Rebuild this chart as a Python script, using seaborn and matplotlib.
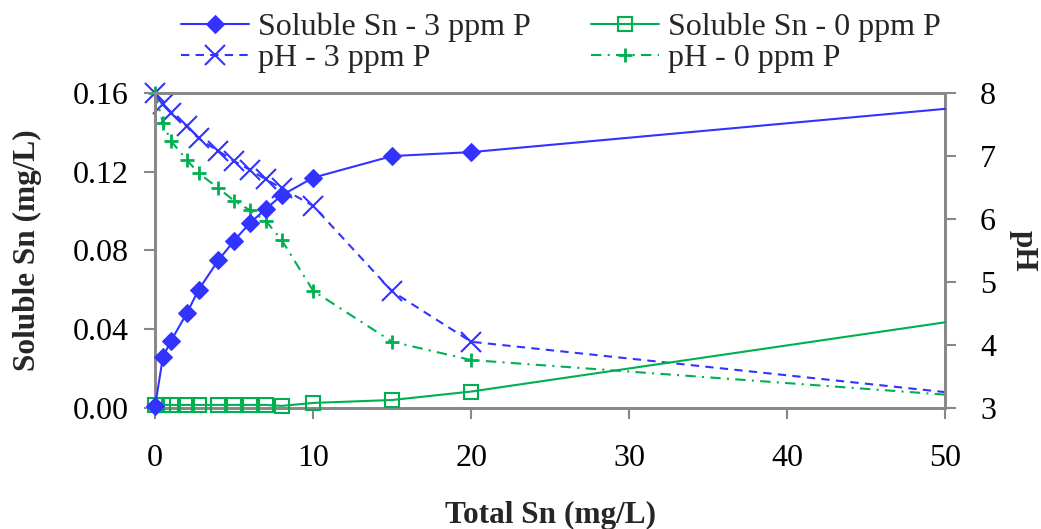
import matplotlib
matplotlib.use("Agg")
import matplotlib.pyplot as plt
import seaborn as sns
import numpy as np

total_sn = [0, 0.5, 1, 2, 2.75, 4, 5, 6, 7, 8, 10, 15, 20, 50]
sol_sn_3p = [0.001, 0.026, 0.034, 0.048, 0.060, 0.075, 0.085, 0.094, 0.101, 0.108, 0.117, 0.128, 0.130, 0.152]
sol_sn_0p = [0.0015, 0.0015, 0.0015, 0.0015, 0.0015, 0.0015, 0.0015, 0.0015, 0.0015, 0.001, 0.0025, 0.004, 0.0083, 0.0435]
ph_3p = [8.0, 7.83, 7.68, 7.47, 7.28, 7.08, 6.92, 6.78, 6.63, 6.49, 6.21, 4.85, 4.05, 3.25]
ph_0p = [8.0, 7.52, 7.24, 6.94, 6.73, 6.49, 6.29, 6.14, 5.97, 5.67, 4.86, 4.05, 3.76, 3.21]

sns.set_theme(style="white")
plt.rcParams['font.family'] = ['Liberation Serif', 'DejaVu Serif']

BLUE = '#3333FF'
GREEN = '#00B050'
GREY = '#888888'
FS_TICK = 23
FS_LAB = 22.5
FS_LEG = 23

mk = list(range(len(total_sn) - 1))  # no marker on the last point

fig = plt.figure(figsize=(10.41, 5.29), dpi=100)
ax = fig.add_axes([0.149, 0.229, 0.759, 0.595])
ax2 = ax.twinx()

sns.lineplot(x=total_sn, y=sol_sn_3p, ax=ax, sort=False, color=BLUE, lw=1.5,
             marker='D', markersize=9, markeredgecolor=BLUE, markerfacecolor=BLUE,
             markevery=mk, clip_on=False, label='Soluble Sn - 3 ppm P', legend=False, zorder=4)
sns.lineplot(x=total_sn, y=sol_sn_0p, ax=ax, sort=False, color=GREEN, lw=1.5,
             marker='s', markersize=10, markeredgecolor=GREEN, markerfacecolor='none',
             markeredgewidth=1.5, markevery=mk, clip_on=False, label='Soluble Sn - 0 ppm P',
             legend=False, zorder=3)
sns.lineplot(x=total_sn, y=ph_3p, ax=ax2, sort=False, color=BLUE, lw=1.5, linestyle=(0, (4, 3)),
             marker='x', markersize=14, markeredgecolor=BLUE, markeredgewidth=1.5,
             markevery=mk, clip_on=False, label='pH - 3 ppm P', legend=False)
sns.lineplot(x=total_sn, y=ph_0p, ax=ax2, sort=False, color=GREEN, lw=1.5, linestyle=(0, (5, 3, 1, 3)),
             marker='+', markersize=10, markeredgecolor=GREEN, markeredgewidth=2,
             markevery=mk, clip_on=False, label='pH - 0 ppm P', legend=False)

ax.set_xlim(0, 50)
ax.set_ylim(0, 0.16)
ax2.set_ylim(3, 8)
ax.set_xticks([0, 10, 20, 30, 40, 50])
ax.set_yticks([0, 0.04, 0.08, 0.12, 0.16])
ax.set_yticklabels(['0.00', '0.04', '0.08', '0.12', '0.16'])
ax2.set_yticks([3, 4, 5, 6, 7, 8])

for a in (ax, ax2):
    for s in a.spines.values():
        s.set_color(GREY)
        s.set_linewidth(2)
ax.tick_params(axis='both', which='both', direction='out', length=8, width=1.5, color=GREY,
               labelsize=FS_TICK, labelcolor='black', left=True, bottom=True, pad=11)
ax.tick_params(axis='x', pad=18)
ax2.tick_params(axis='y', direction='out', length=8, width=1.5, color=GREY,
                labelsize=FS_TICK, labelcolor='black', right=True, pad=17)

ax.set_xlabel('Total Sn (mg/L)', fontsize=FS_LAB, fontweight='bold', labelpad=20)
ax.set_ylabel('Soluble Sn (mg/L)', fontsize=FS_LAB, fontweight='bold', labelpad=22)
ax2.set_ylabel('pH', fontsize=FS_LAB, fontweight='bold', rotation=-90, labelpad=30)
ax.set_zorder(ax2.get_zorder() + 1)
ax.patch.set_visible(False)

h1, l1 = ax.get_legend_handles_labels()
h2, l2 = ax2.get_legend_handles_labels()
handles = [h1[0], h2[0], h1[1], h2[1]]
labels = [l1[0], l2[0], l1[1], l2[1]]
fig.legend(handles, labels, ncol=2, loc='upper left', bbox_to_anchor=(0.146, 1.031),
           frameon=False, fontsize=FS_LEG, handlelength=2.13, handletextpad=0.28,
           columnspacing=1.88, labelspacing=0.05)

fig.savefig('out.png', dpi=100)
